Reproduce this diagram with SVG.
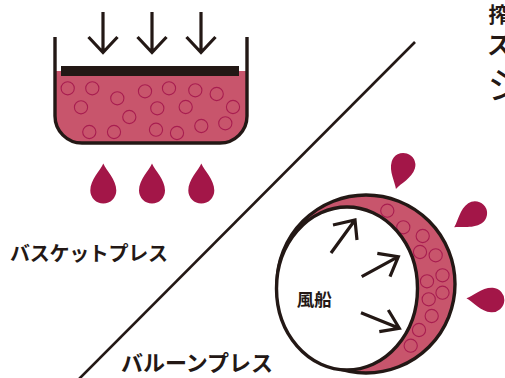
<svg xmlns="http://www.w3.org/2000/svg" width="505" height="378" viewBox="0 0 505 378">
  <style>
    .ink { stroke: #231815; fill: none; }
    .wall { stroke: #231815; stroke-width: 3.4; fill: none; }
    .arrow { stroke: #231815; stroke-width: 3.2; fill: none; stroke-linejoin: miter; }
    .pulp { fill: #c8556c; }
    .grape { fill: none; stroke: #a81d50; stroke-width: 1.1; }
    .juice { fill: #a31648; }
    .label { font-family: "Noto Sans CJK JP", "Noto Sans", sans-serif; font-weight: 700; fill: #231815; }
  </style>
  <defs>
    <!-- teardrop, tip pointing up, bulb centred on the origin -->
    <path id="drop" d="M0,-27 C3,-20 13,-11 13,0 A13,13 0 0 1 -13,0 C-13,-11 -3,-20 0,-27 Z"/>
    <circle id="bubble" r="6.6"/>
  </defs>

  <!-- basket press -->
  <g id="basket-press">
    <path class="pulp" d="M55,71 L55,116 A27,27 0 0 0 82,143 L220,143 A27,27 0 0 0 247,116 L247,71 Z"/>
    <g class="grape">
      <use href="#bubble" x="67.7" y="88.3"/>
      <use href="#bubble" x="92.3" y="88.3"/>
      <use href="#bubble" x="117.3" y="98.3"/>
      <use href="#bubble" x="81" y="107.3"/>
      <use href="#bubble" x="145" y="91.3"/>
      <use href="#bubble" x="169" y="88.3"/>
      <use href="#bubble" x="195.3" y="90.3"/>
      <use href="#bubble" x="216.7" y="94"/>
      <use href="#bubble" x="157.3" y="108.3"/>
      <use href="#bubble" x="185.7" y="107"/>
      <use href="#bubble" x="233" y="107"/>
      <use href="#bubble" x="129.3" y="117"/>
      <use href="#bubble" x="89.3" y="132"/>
      <use href="#bubble" x="114" y="132"/>
      <use href="#bubble" x="156" y="129.7"/>
      <use href="#bubble" x="177" y="133"/>
      <use href="#bubble" x="201.3" y="126"/>
      <use href="#bubble" x="225.3" y="123.3"/>
    </g>
    <path class="wall" d="M55,37 L55,116 A27,27 0 0 0 82,143 L220,143 A27,27 0 0 0 247,116 L247,37"/>
    <rect x="61" y="66" width="178" height="10" fill="#231815"/>
    <g class="arrow">
      <path d="M103,12 L103,53 M88.5,37 L103,52.5 L117.5,37"/>
      <path d="M152,12 L152,53 M137.5,37 L152,52.5 L166.5,37"/>
      <path d="M201,12 L201,53 M186.5,37 L201,52.5 L215.5,37"/>
    </g>
    <g class="juice">
      <use href="#drop" x="103.3" y="190.5"/>
      <use href="#drop" x="152" y="190.5"/>
      <use href="#drop" x="201.3" y="190.5"/>
    </g>
  </g>

  <!-- balloon press -->
  <g id="balloon-press">
    <circle class="pulp" cx="366" cy="284" r="89"/>
    <g class="grape">
      <use href="#bubble" x="387.3" y="210.7"/>
      <use href="#bubble" x="403.3" y="227.3"/>
      <use href="#bubble" x="422.7" y="236"/>
      <use href="#bubble" x="420" y="252"/>
      <use href="#bubble" x="435.7" y="255.3"/>
      <use href="#bubble" x="442.5" y="275.3"/>
      <use href="#bubble" x="427" y="281.3"/>
      <use href="#bubble" x="442.5" y="292.7"/>
      <use href="#bubble" x="428.7" y="299.3"/>
      <use href="#bubble" x="431.7" y="316"/>
      <use href="#bubble" x="419" y="330"/>
      <use href="#bubble" x="410.7" y="345.7"/>
    </g>
    <circle class="wall" cx="366" cy="284" r="89"/>
    <ellipse cx="347" cy="288.5" rx="70.5" ry="81.5" fill="#ffffff" stroke="#231815" stroke-width="3.4"/>
    <g class="arrow">
      <path d="M331,253 L355,220 M333,225 L355,220 L357,240"/>
      <path d="M361.7,276.7 L398.3,256.7 M377.3,253.3 L398.3,256.7 L390,276.7"/>
      <path d="M361,312.7 L399.3,328.3 M379.3,331.7 L399.3,328.3 L388.3,310"/>
    </g>
    <g class="juice">
      <use href="#drop" transform="translate(403.3,165) rotate(197) scale(0.93)"/>
      <use href="#drop" transform="translate(475,213.3) rotate(236) scale(0.93)"/>
      <use href="#drop" transform="translate(492,300) rotate(274) scale(0.95)"/>
    </g>
    <text class="label" x="296.7" y="306" font-size="17.5" textLength="35">風船</text>
  </g>

  <!-- divider -->
  <g id="connectors">
    <line class="ink" x1="415" y1="42" x2="78" y2="380" stroke-width="2.6"/>
  </g>

  <!-- captions -->
  <g id="captions">
    <text class="label" x="10" y="261" font-size="20" textLength="158">バスケットプレス</text>
    <text class="label" x="121" y="371" font-size="22" textLength="152">バルーンプレス</text>
  </g>

  <!-- heading running off the right edge -->
  <g id="heading" class="label">
    <text x="488.5" y="22" font-size="21">搾</text>
    <text x="487" y="54" font-size="24">ス</text>
    <text x="487" y="99" font-size="38" font-weight="400">シ</text>
  </g>
</svg>
